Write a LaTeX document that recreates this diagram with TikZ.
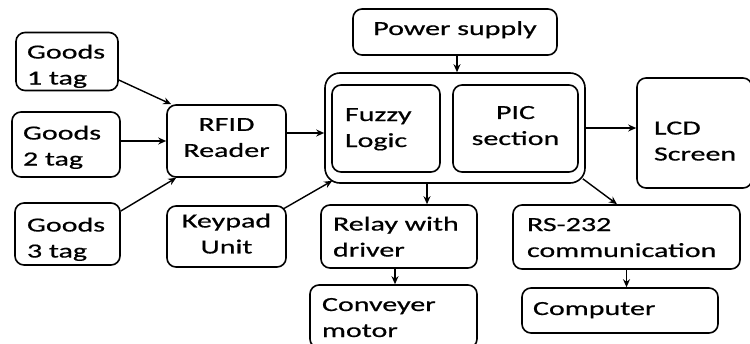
\documentclass[tikz,border=0pt]{standalone}
\usepackage{fontspec}
\setmainfont{Carlito}[FakeStretch=1.5,FakeBold=0.6]
\usetikzlibrary{arrows.meta}
\tikzset{
  box/.style={draw, line width=1.6pt, rounded corners=9pt, inner ysep=0pt,
    font=\fontsize{20}{26}\selectfont},
  lbox/.style={box, align=left},
  cbox/.style={box, align=center},
  % lowers the text block by #1 pt inside its box, with fixed struts
  tdrop/.style={
    execute at begin node={\pgfmathsetlengthmacro\tbh{max(16,2*#1+19)}\rule{0pt}{\tbh}},
    execute at end node={\pgfmathsetlengthmacro\tbd{max(16,2*#1+19)-2*#1-13}\rule[-\tbd]{0pt}{0pt}}},
  link/.style={line width=1.4pt, -{Stealth[length=8pt,width=7pt]}},
}
\begin{document}
\begin{tikzpicture}[x=1pt,y=-1pt]
\clip (0,0) rectangle (750,343);

% left column: tagged goods
\node[lbox, tdrop=3.5, inner xsep=11pt, text width=80pt, minimum height=57pt] (g1) at (67,61.5) {Goods\\1 tag};
\node[lbox, tdrop=1.5, inner xsep=11pt, text width=86pt, minimum height=65pt] (g2) at (66,144.5) {Goods\\2 tag};
\node[lbox, tdrop=4, inner xsep=12pt, text width=81pt, minimum height=62pt] (g3) at (67.5,234) {Goods\\3 tag};

% reader and keypad
\node[cbox, tdrop=-2, minimum width=119pt, minimum height=72pt] (rfid) at (226.5,141) {RFID\\Reader};
\node[cbox, tdrop=1.5, minimum width=119pt, minimum height=61pt] (keypad) at (226.5,236.5) {Keypad\\Unit};

% controller block
\node[cbox, tdrop=-3.5, minimum width=204pt, minimum height=46pt] (power) at (455,32) {Power supply};
\node[box, rounded corners=15pt, minimum width=260pt, minimum height=110pt] (ctrl) at (455,128) {};
\node[lbox, tdrop=-1, inner xsep=13pt, text width=82pt, minimum height=87pt] (fuzzy) at (386,128.5) {Fuzzy\\Logic};
\node[cbox, tdrop=-1, minimum width=125pt, minimum height=87pt] (pic) at (515.5,128.5) {PIC\\section};

% outputs
\node[lbox, tdrop=8, inner xsep=17pt, text width=81pt, minimum height=110pt] (lcd) at (694.5,133) {LCD\\Screen};
\node[lbox, tdrop=0.5, inner xsep=12pt, text width=132pt, minimum height=63pt] (relay) at (399,236.5) {Relay with\\driver};
\node[lbox, tdrop=1, inner xsep=12pt, text width=143pt, minimum height=63pt] (conv) at (393.5,316.5) {Conveyer\\motor};
\node[lbox, tdrop=0.5, inner xsep=14pt, text width=199pt, minimum height=64pt] (rs) at (626.5,237) {RS-232\\communication};
\node[lbox, tdrop=-2, inner xsep=11pt, text width=174pt, minimum height=45pt] (pc) at (620,310.5) {Computer};

% connections
\draw[link] ([yshift=-18.5pt]g1.east) -- ([xshift=5pt]rfid.north west);
\draw[link] (g2.east |- rfid.west) -- (rfid.west);
\draw[link] ([yshift=23pt]g3.east) -- ([xshift=10pt]rfid.south west);
\draw[link] ([yshift=8pt]rfid.east) -- ([yshift=8pt]rfid.east -| ctrl.west);
\draw[link] ([xshift=-4pt,yshift=-4pt]keypad.north east) -- ([xshift=8pt,yshift=3pt]ctrl.south west);
\draw[link] ([xshift=2pt]power.south) -- ([xshift=2pt]ctrl.north);
\draw[link] (ctrl.east) -- (ctrl.east -| lcd.west);
\draw[link] ([xshift=-28pt]ctrl.south) -- ([xshift=-28pt]ctrl.south |- relay.north);
\draw[link] ([xshift=-3pt,yshift=5pt]ctrl.south east) -- ([xshift=-9.5pt]rs.north);
\draw[link] ([xshift=-4pt]relay.south) -- ([xshift=-4pt]relay.south |- conv.north);
\draw[link] (rs.south) -- (rs.south |- pc.north);
\end{tikzpicture}
\end{document}
